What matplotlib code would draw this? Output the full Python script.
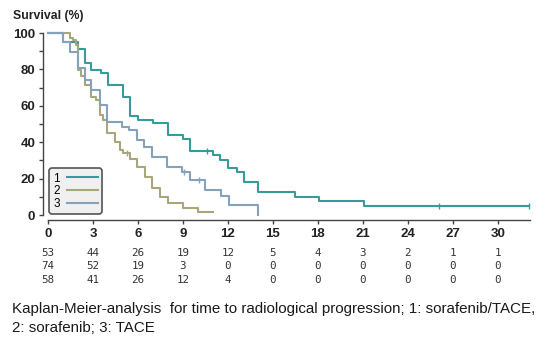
import matplotlib
matplotlib.use("Agg")
import matplotlib.pyplot as plt
from matplotlib.transforms import blended_transform_factory

# ---- data ----
t1 = [0, 1.0, 2.0, 2.44, 2.9, 3.55, 4.0, 5.0, 5.47, 6.02, 7.02, 8.02, 9.02, 9.5, 11.02, 11.5, 12.02, 12.58, 13.1, 14.02, 16.5, 18.07, 21.07, 32.1]
s1 = [100, 94.8, 91.2, 83.5, 79.8, 77.9, 71.2, 64.8, 54.5, 52.2, 50.5, 44.0, 42.0, 35.4, 32.8, 30.2, 26.0, 23.4, 18.2, 12.8, 10.0, 7.5, 4.9, 4.9]
c1_t = [10.58, 26.1, 32.1]
c1_s = [35.4, 4.9, 4.9]

t2 = [0, 1.44, 1.67, 1.84, 2.0, 2.22, 2.44, 2.89, 3.22, 3.44, 3.67, 3.91, 4.47, 4.8, 5.02, 5.47, 5.91, 6.47, 6.91, 7.47, 8.02, 9.02, 10.02, 11.02]
s2 = [100, 97.4, 95.9, 93.2, 79.8, 76.1, 71.6, 65.1, 63.3, 54.9, 52.3, 44.9, 40.3, 35.9, 33.9, 30.6, 26.6, 21.0, 14.6, 10.0, 6.4, 3.7, 1.8, 1.8]
c2_t = [5.24]
c2_s = [33.9]

t3 = [0, 1.0, 1.44, 2.0, 2.45, 2.9, 3.47, 3.95, 4.91, 5.4, 5.93, 6.38, 6.93, 7.95, 8.93, 9.5, 10.5, 11.55, 12.05, 14.0]
s3 = [100, 94.8, 89.7, 81.0, 74.0, 68.8, 60.4, 51.3, 48.5, 46.7, 41.2, 37.5, 32.0, 26.5, 23.8, 19.2, 13.7, 10.5, 5.5, 0]
c3_t = [9.07, 10.07]
c3_s = [23.8, 19.2]

labels = ["1", "2", "3"]
colors = ["#379b99", "#a8a67a", "#86a2b9"]

x_ticks = [0, 3, 6, 9, 12, 15, 18, 21, 24, 27, 30]
risk1 = [53, 44, 26, 19, 12, 5, 4, 3, 2, 1, 1]
risk2 = [74, 52, 19, 3, 0, 0, 0, 0, 0, 0, 0]
risk3 = [58, 41, 26, 12, 4, 0, 0, 0, 0, 0, 0]

caption1 = "Kaplan-Meier-analysis  for time to radiological progression; 1: sorafenib/TACE,"
caption2 = "2: sorafenib; 3: TACE"

W, H = 550, 341
fig = plt.figure(figsize=(W / 100, H / 100), dpi=100)
ax = fig.add_axes([48 / W, 1 - 215 / H, 482 / W, 182 / H])

series = [(t1, s1, c1_t, c1_s), (t2, s2, c2_t, c2_s), (t3, s3, c3_t, c3_s)]
for (t, s, ct, cs), lab, col in zip(series, labels, colors):
    ax.step(t, s, where="post", color=col, lw=1.5, label=lab, clip_on=False)
    ax.plot(ct, cs, ls="none", marker="|", ms=5, mew=1.0, color=col, clip_on=False)

ax.set_xlim(0, 32.15)
ax.set_ylim(0, 100)
ax.set_xticks(x_ticks)
ax.set_yticks(range(0, 101, 20))
ax.set_yticks(range(10, 100, 20), minor=True)
for sp in ["top", "right"]:
    ax.spines[sp].set_visible(False)
for sp in ["left", "bottom"]:
    ax.spines[sp].set_position(("outward", 3.6))
    ax.spines[sp].set_color("#444444")
    ax.spines[sp].set_linewidth(1.0)
ax.tick_params(axis="both", which="both", length=3, width=1.0, color="#444444",
               labelsize=9.5, labelcolor="#222222", pad=2.5)
for lbl in ax.get_xticklabels() + ax.get_yticklabels():
    lbl.set_fontfamily("Liberation Sans")
    lbl.set_fontweight("bold")

leg = ax.legend(loc="lower left", bbox_to_anchor=(0.0, 0.0), borderaxespad=0.1,
                markerfirst=False, handlelength=2.6, handletextpad=0.6,
                labelspacing=0.05, borderpad=0.35, fancybox=True,
                prop={"family": "Liberation Sans", "size": 8.5})
fr = leg.get_frame()
fr.set_edgecolor("#555555")
fr.set_facecolor("#f0f0f0")
fr.set_alpha(1)
fr.set_linewidth(1.2)

fig.text(13 / W, 1 - 19 / H, "Survival (%)", fontsize=8.8, fontweight="bold",
         family="Liberation Sans", color="#222222", va="baseline", ha="left")

tr = blended_transform_factory(ax.transData, fig.transFigure)
for ry, risk in zip([253, 266, 280], [risk1, risk2, risk3]):
    for xv, n in zip(x_ticks, risk):
        ax.text(xv, 1 - ry / H, str(n), transform=tr, ha="center", va="center",
                family="DejaVu Sans Mono", fontsize=7.8, color="#333333")

fig.text(12 / W, 1 - 313 / H, caption1, fontsize=10.9, family="Liberation Sans",
         color="#1a1a1a", va="baseline", ha="left")
fig.text(12 / W, 1 - 332 / H, caption2, fontsize=10.9, family="Liberation Sans",
         color="#1a1a1a", va="baseline", ha="left")

fig.savefig("out.png", dpi=100)
